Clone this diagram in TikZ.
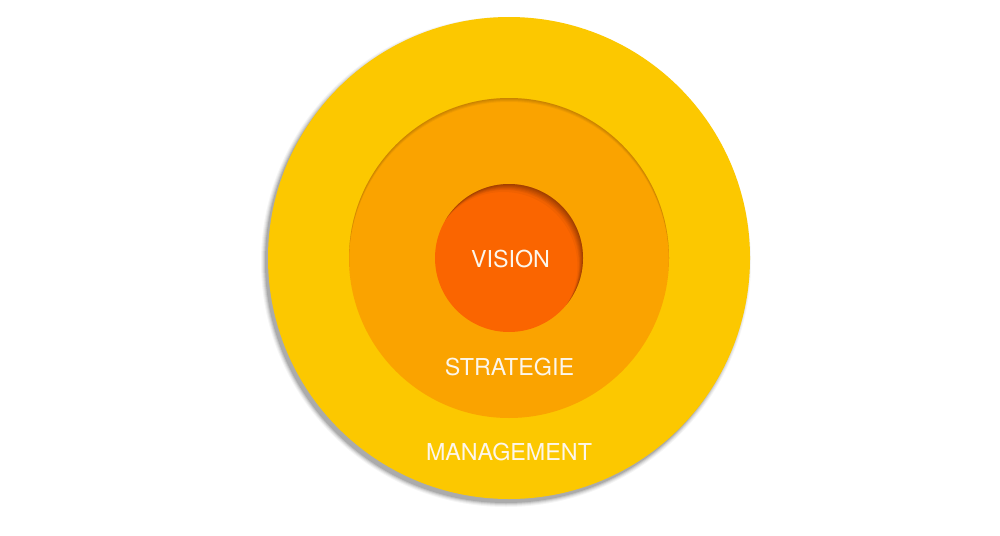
\documentclass[tikz,border=0pt]{standalone}
\usepackage{fontspec}
\newfontfamily\lightfont{TeX Gyre Heros}
\definecolor{cyellow}{RGB}{252,200,0}
\definecolor{corange}{RGB}{250,163,0}
\definecolor{cred}{RGB}{250,101,0}
\definecolor{txt}{RGB}{252,246,236}
\tikzset{
  ring/.style={circle, inner sep=0pt, draw=none},
  label/.style={text=txt, font=\lightfont\fontsize{23.3}{23.3}\selectfont, inner sep=0pt, anchor=base}
}
\begin{document}
\begin{tikzpicture}[x=1pt,y=-1pt]
\useasboundingbox (0,0) rectangle (1000,535);
\fill[white] (0,0) rectangle (1000,535);
% outer drop shadow
\foreach \w/\o in {8/0.04,6/0.05,4/0.07,2/0.09,0/0.12}{
  \fill[black, opacity=\o] (506,262) circle ({241+\w/2});
}
\node[ring, fill=cyellow, minimum size=482pt] (outer) at (509,258) {};
\node[ring, fill=corange, minimum size=320pt] (middle) at (509,258) {};
% inset shadow middle
\begin{scope}
  \clip (509,258) circle (160);
  \foreach \d/\o in {1/0.05,2/0.05,3/0.05,4/0.04}{
    \fill[black, opacity=\o, even odd rule] (309,58) rectangle (709,458) (509,{258+\d}) circle (160);
  }
\end{scope}
\node[ring, fill=cred, minimum size=148pt] (inner) at (509,258) {};
% inset shadow inner
\begin{scope}
  \clip (509,258) circle (74);
  \foreach \d/\o in {1/0.07,2/0.07,3/0.06,4/0.06,5/0.05,6/0.05,8/0.04}{
    \fill[black, opacity=\o, even odd rule] (400,150) rectangle (620,370) ({509-0.7*\d},{258+\d}) circle (74);
  }
\end{scope}
\node[label] (vision) at (510.5,267) {VISION};
\node[label] (strategie) at (509.5,375.5) {STRATEGIE};
\node[label] (management) at (509,460) {MANAGEMENT};
\end{tikzpicture}
\end{document}
